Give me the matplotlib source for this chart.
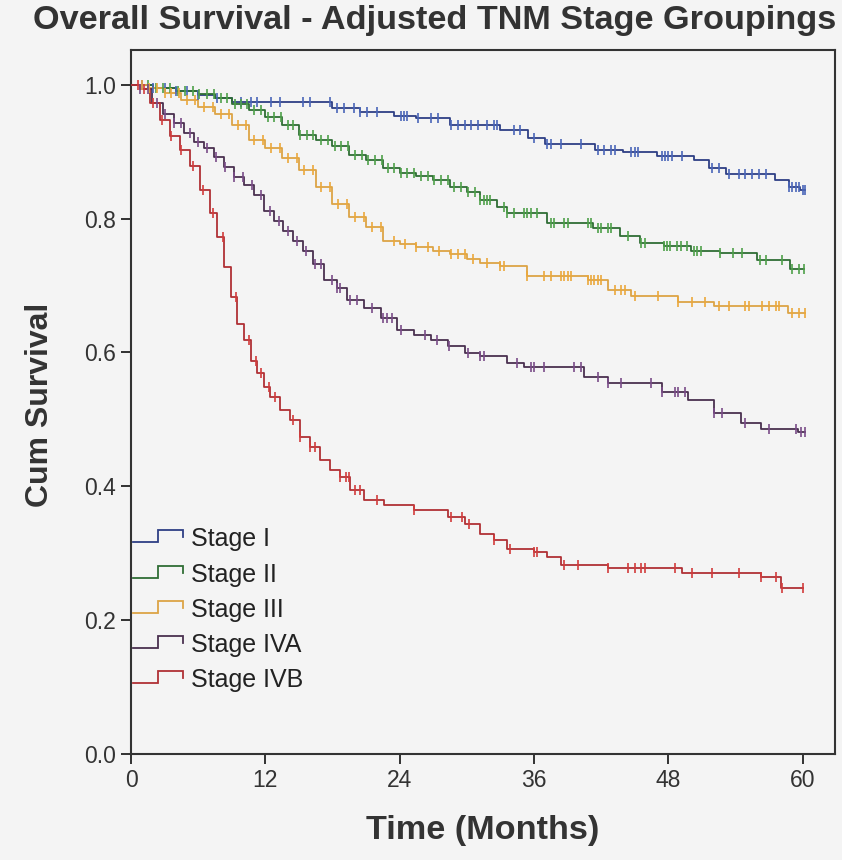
import numpy as np
import matplotlib
matplotlib.use("Agg")
import matplotlib.pyplot as plt
from matplotlib.legend_handler import HandlerBase
from matplotlib.lines import Line2D

# ---------------- data ----------------
stage_names = ["Stage I", "Stage II", "Stage III", "Stage IVA", "Stage IVB"]

months_I = [0, 2, 4, 6, 7.5, 9, 18, 20.5, 23.5, 25.5, 28.5, 33, 35.5, 37, 41.5, 44, 47, 50.3, 51.6, 53.2, 57.5, 58.8, 59.8]
surv_I = [1.0, 0.995, 0.99, 0.985, 0.98, 0.975, 0.966, 0.96, 0.953, 0.95, 0.94, 0.932, 0.921, 0.911, 0.903, 0.9, 0.893, 0.888, 0.876, 0.866, 0.858, 0.848, 0.843]
censor_I = [1.0, 2.0, 3.0, 4.0, 5.0, 6.0, 7.7, 9.8, 10.7, 11.3, 12.5, 13.3, 15.4, 16.0, 17.8, 18.4, 19.0, 19.9, 20.5, 21.1, 22.0, 24.1, 24.4, 24.7, 25.6, 26.8, 27.4, 28.6, 29.2, 29.8, 30.4, 31.0, 31.8, 32.4, 32.7, 34.2, 34.8, 36.0, 37.2, 37.5, 38.4, 40.2, 41.7, 42.3, 42.9, 43.2, 44.7, 45.0, 45.3, 47.4, 47.7, 48.0, 48.3, 49.2, 51.9, 52.5, 53.4, 54.3, 54.9, 55.5, 56.1, 56.7, 58.8, 59.1, 59.4, 59.7, 60.0, 60.2]

months_II = [0, 2, 4, 6, 7.5, 9, 10.5, 12, 13.5, 15, 16.5, 18, 19.5, 21, 22.5, 24, 25.5, 27, 28.5, 30, 31.2, 32.7, 33.6, 37.2, 41.3, 43.7, 45.5, 47.6, 50.0, 52.6, 55.9, 58.9]
surv_II = [1.0, 0.995, 0.99, 0.986, 0.98, 0.972, 0.963, 0.952, 0.94, 0.925, 0.917, 0.908, 0.895, 0.888, 0.876, 0.868, 0.863, 0.858, 0.848, 0.84, 0.828, 0.818, 0.809, 0.794, 0.786, 0.774, 0.764, 0.759, 0.752, 0.748, 0.738, 0.724]
censor_II = [1.5, 2.2, 2.9, 3.5, 4.2, 4.8, 5.5, 6.1, 6.8, 7.4, 8.0, 8.6, 9.3, 9.8, 10.4, 11.0, 11.6, 12.2, 12.8, 13.4, 14.0, 14.5, 15.1, 15.7, 16.3, 17.0, 17.6, 18.2, 18.8, 19.4, 20.0, 20.6, 21.2, 21.8, 22.4, 23.0, 23.5, 24.1, 24.7, 25.3, 25.9, 26.5, 27.1, 27.7, 28.3, 28.9, 29.5, 30.1, 30.7, 31.2, 31.5, 31.8, 32.1, 33.3, 33.6, 34.2, 35.1, 35.4, 35.7, 36.3, 37.5, 37.8, 38.7, 39.0, 40.8, 41.1, 41.7, 42.0, 42.6, 42.9, 44.4, 45.6, 45.9, 47.6, 47.9, 48.2, 48.8, 49.1, 49.7, 50.3, 50.6, 50.9, 52.6, 53.8, 54.6, 56.2, 56.7, 58.2, 59.1, 59.7, 60.1]

months_III = [0, 1.5, 3, 4.5, 6, 7.5, 9, 10.5, 12, 13.5, 15, 16.5, 18, 19.5, 21, 22.5, 24, 25.5, 27, 28.5, 30, 31.2, 33.0, 35.4, 40.8, 42.6, 44.7, 48.9, 52.1, 58.7]
surv_III = [1.0, 0.995, 0.988, 0.977, 0.967, 0.957, 0.94, 0.917, 0.905, 0.89, 0.872, 0.847, 0.822, 0.802, 0.787, 0.767, 0.762, 0.757, 0.752, 0.747, 0.739, 0.734, 0.729, 0.715, 0.709, 0.694, 0.685, 0.676, 0.669, 0.659]
censor_III = [1.0, 1.6, 2.3, 3.0, 3.6, 4.3, 5.0, 5.7, 6.5, 7.3, 8.0, 8.8, 9.6, 10.3, 11.0, 11.8, 12.5, 13.3, 14.0, 14.8, 15.5, 16.3, 17.0, 17.8, 18.5, 19.3, 20.0, 20.8, 21.5, 22.3, 23.5, 24.5, 25.5, 26.5, 27.5, 28.6, 29.2, 29.8, 30.6, 31.8, 33.0, 33.3, 35.4, 36.9, 37.5, 38.4, 38.7, 39.0, 39.3, 40.8, 41.1, 41.4, 41.7, 42.0, 43.2, 43.8, 44.1, 45.0, 47.1, 48.9, 50.1, 51.3, 52.5, 53.4, 54.9, 55.2, 56.4, 57.0, 57.6, 57.9, 59.1, 59.7, 60.2]

months_IVA = [0, 0.8, 1.9, 2.9, 3.8, 4.7, 5.6, 6.5, 7.4, 8.3, 9.2, 10.1, 11.0, 11.9, 12.8, 13.6, 14.5, 15.4, 16.3, 17.2, 18.4, 19.3, 20.8, 22.3, 23.8, 25.3, 26.8, 28.3, 29.8, 31.2, 33.6, 35.1, 40.5, 42.6, 47.4, 49.8, 52.1, 54.5, 56.3, 59.6]
surv_IVA = [1.0, 0.993, 0.973, 0.957, 0.943, 0.928, 0.915, 0.905, 0.892, 0.877, 0.862, 0.850, 0.835, 0.812, 0.797, 0.782, 0.767, 0.752, 0.732, 0.709, 0.696, 0.679, 0.666, 0.651, 0.634, 0.626, 0.619, 0.609, 0.599, 0.594, 0.584, 0.579, 0.564, 0.554, 0.541, 0.529, 0.509, 0.494, 0.485, 0.481]
censor_IVA = [0.8, 1.5, 2.3, 3.0, 3.8, 4.5, 5.3, 6.0, 6.8, 7.6, 8.4, 9.2, 10.0, 10.8, 11.6, 12.4, 13.2, 14.0, 14.8, 15.6, 16.4, 17.0, 18.0, 18.4, 18.7, 19.6, 20.2, 21.5, 22.5, 22.9, 23.3, 24.1, 26.3, 27.3, 28.4, 30.1, 31.2, 31.5, 34.5, 35.7, 36.0, 36.9, 39.6, 40.2, 41.7, 42.6, 43.8, 46.5, 47.4, 48.6, 48.9, 49.5, 52.1, 52.8, 54.9, 57.0, 59.4, 59.9, 60.2]

months_IVB = [0, 0.8, 1.7, 2.6, 3.5, 4.4, 5.3, 6.2, 7.1, 7.7, 8.3, 8.9, 9.5, 10.1, 10.7, 11.3, 11.9, 12.4, 13.3, 14.2, 15.1, 16.0, 16.9, 17.8, 18.7, 19.6, 20.8, 22.6, 25.3, 28.3, 29.8, 31.2, 32.4, 33.6, 36.0, 37.2, 38.4, 42.6, 49.2, 56.3, 58.1]
surv_IVB = [1.0, 0.993, 0.973, 0.948, 0.923, 0.903, 0.878, 0.843, 0.808, 0.773, 0.728, 0.683, 0.643, 0.618, 0.588, 0.569, 0.549, 0.534, 0.514, 0.499, 0.474, 0.459, 0.439, 0.424, 0.414, 0.394, 0.379, 0.372, 0.364, 0.354, 0.344, 0.329, 0.320, 0.306, 0.302, 0.295, 0.283, 0.278, 0.270, 0.264, 0.248]
censor_IVB = [0.6, 1.2, 2.0, 2.8, 3.6, 4.5, 5.5, 6.4, 7.3, 8.2, 9.4, 10.5, 11.2, 11.6, 12.3, 12.9, 14.5, 15.1, 16.0, 16.4, 18.7, 19.2, 19.5, 20.0, 20.5, 22.0, 25.3, 28.6, 29.6, 30.2, 32.4, 33.9, 36.0, 36.3, 38.7, 39.9, 42.6, 44.4, 45.0, 45.6, 45.9, 48.6, 50.1, 51.9, 54.3, 56.3, 57.6, 58.2, 60.0]

x_ticks = [0, 12, 24, 36, 48, 60]
y_ticks = [0.0, 0.2, 0.4, 0.6, 0.8, 1.0]

line_colors = ["#2e3f85", "#2f6d35", "#dca445", "#4a3050", "#b03035"]
mark_colors = ["#4a66b8", "#4fa04a", "#eba83c", "#7a4c88", "#d23c3c"]

series = [
    (months_I, surv_I, censor_I),
    (months_II, surv_II, censor_II),
    (months_III, surv_III, censor_III),
    (months_IVA, surv_IVA, censor_IVA),
    (months_IVB, surv_IVB, censor_IVB),
]

BG = "#f4f4f4"
FONT = ["Liberation Sans", "DejaVu Sans"]
plt.rcParams["font.family"] = FONT

fig = plt.figure(figsize=(8.42, 8.60), dpi=100, facecolor=BG)
ax = fig.add_axes([131 / 842, 1 - 754 / 860, 704 / 842, 704 / 860])
ax.set_facecolor(BG)


class StepHandler(HandlerBase):
    def create_artists(self, legend, orig_handle, xdescent, ydescent,
                       width, height, fontsize, trans):
        x0 = -xdescent
        y0 = -ydescent
        xs = [x0, x0 + 0.5 * width, x0 + 0.5 * width, x0 + width, x0 + width]
        ys = [y0 + 0.2 * height, y0 + 0.2 * height, y0 + 0.95 * height,
              y0 + 0.95 * height, y0 + 0.5 * height]
        ln = Line2D(xs, ys, color=orig_handle.get_color(), lw=1.3,
                    solid_joinstyle="miter")
        ln.set_transform(trans)
        return [ln]


handles = []
for (t, s, c), lc, mc, name in zip(series, line_colors, mark_colors, stage_names):
    t = np.asarray(t, float)
    s = np.asarray(s, float)
    c = np.asarray(c, float)
    t_end = max(c.max(), t.max())
    tx = np.append(t, t_end)
    sy = np.append(s, s[-1])
    h, = ax.plot(tx, sy, drawstyle="steps-post", color=lc, lw=1.3, zorder=3, label=name)
    idx = np.searchsorted(t, c, side="right") - 1
    ax.plot(c, s[idx], linestyle="none", marker="|", markersize=7.5,
            markeredgewidth=1.2, color=mc, zorder=4)
    handles.append(h)

ax.set_xlim(0, 62.9)
ax.set_ylim(0, 1.052)
ax.set_xticks(x_ticks)
ax.set_xticklabels([str(v) for v in x_ticks])
ax.set_yticks(y_ticks)
ax.set_yticklabels([f"{v:.1f}" for v in y_ticks])
ax.tick_params(direction="out", length=7, width=1.3, colors="#222222",
               labelsize=16.5, pad=4)
for lab in ax.get_xticklabels() + ax.get_yticklabels():
    lab.set_color("#333333")

for sp in ax.spines.values():
    sp.set_color("#333333")
    sp.set_linewidth(1.5)

leg = ax.legend(handles=handles, labels=stage_names,
                handler_map={h: StepHandler() for h in handles},
                loc="upper left", bbox_to_anchor=(0.003, 0.322),
                frameon=False, fontsize=18, handlelength=2.0,
                handleheight=0.6, handletextpad=0.3, labelspacing=0.45,
                borderpad=0.0, borderaxespad=0.0)
for txt in leg.get_texts():
    txt.set_color("#222222")

fig.text(0.516, 1 - 21 / 860, "Overall Survival - Adjusted TNM Stage Groupings",
         ha="center", va="center", fontsize=24.7, fontweight="bold", color="#333333")
fig.text(40 / 842, 1 - 405 / 860, "Cum Survival", rotation=90, ha="center",
         va="center", fontsize=23, fontweight="bold", color="#333333")
fig.text(483 / 842, 1 - 830 / 860, "Time (Months)", ha="center", va="center",
         fontsize=24.7, fontweight="bold", color="#333333")

fig.savefig("out.png", dpi=100, facecolor=BG)
